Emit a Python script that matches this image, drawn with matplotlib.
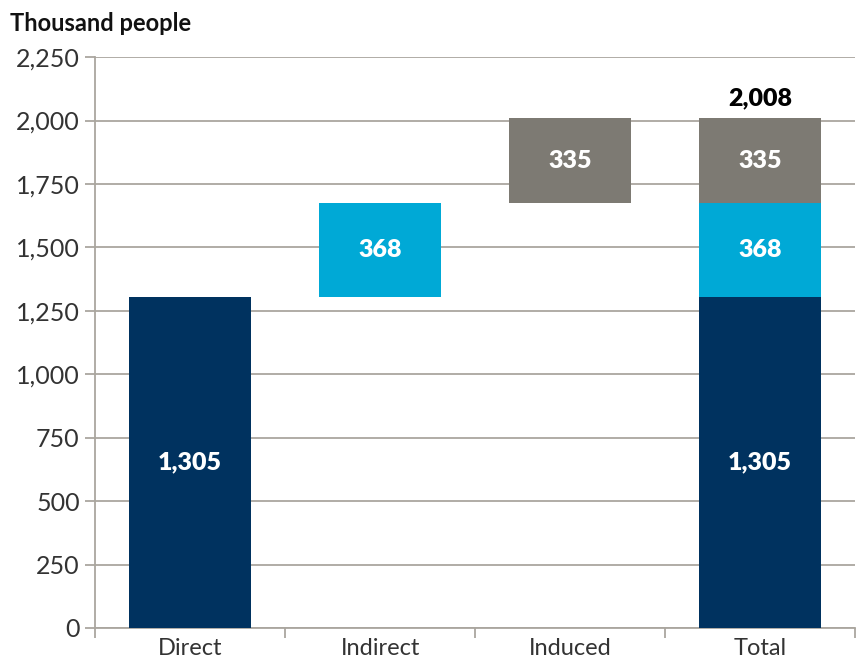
import matplotlib.pyplot as plt
from matplotlib.ticker import FuncFormatter, FixedLocator

plt.rcParams['font.family'] = ['Lato', 'DejaVu Sans']

categories = ['Direct', 'Indirect', 'Induced', 'Total']
direct = 1305
indirect = 368
induced = 335
total = direct + indirect + induced  # 2008

c_direct = '#00325f'
c_indirect = '#00a9d6'
c_induced = '#7d7a73'
grid_c = '#aaa69f'

fig = plt.figure(figsize=(8.56, 6.6), dpi=100)
ax = fig.add_axes([0.111, 0.0485, 0.888, 0.865])

w = 0.64
# waterfall bars
ax.bar(0, direct, w, color=c_direct, zorder=3)
ax.bar(1, indirect, w, bottom=direct, color=c_indirect, zorder=3)
ax.bar(2, induced, w, bottom=direct + indirect, color=c_induced, zorder=3)
# total stacked
ax.bar(3, direct, w, color=c_direct, zorder=3)
ax.bar(3, indirect, w, bottom=direct, color=c_indirect, zorder=3)
ax.bar(3, induced, w, bottom=direct + indirect, color=c_induced, zorder=3)

lbl = dict(ha='center', va='center', color='white', fontsize=18, fontweight='heavy', zorder=4)
ax.text(0, direct / 2, f'{direct:,}', **lbl)
ax.text(1, direct + indirect / 2, f'{indirect:,}', **lbl)
ax.text(2, direct + indirect + induced / 2, f'{induced:,}', **lbl)
ax.text(3, direct / 2, f'{direct:,}', **lbl)
ax.text(3, direct + indirect / 2, f'{indirect:,}', **lbl)
ax.text(3, direct + indirect + induced / 2, f'{induced:,}', **lbl)
ax.text(3, total + 35, f'{total:,}', ha='center', va='bottom', fontsize=18,
        fontweight='heavy', color='black')

ax.set_xlim(-0.5, 3.5)
ax.set_ylim(0, 2250)
ax.set_yticks(range(0, 2251, 250))
ax.yaxis.set_major_formatter(FuncFormatter(lambda v, p: f'{int(v):,}'))
ax.set_xticks(range(4))
ax.set_xticklabels(categories)
ax.xaxis.set_minor_locator(FixedLocator([-0.5, 0.5, 1.5, 2.5, 3.5]))
ax.tick_params(axis='x', which='major', length=0, labelsize=17, pad=7, labelcolor='#333333')
ax.tick_params(axis='x', which='minor', length=7, color=grid_c, width=1.3)
ax.tick_params(axis='y', length=7, color=grid_c, width=1.3, labelsize=18, pad=4,
               labelcolor='#333333')

ax.grid(axis='y', color=grid_c, linewidth=1.3, zorder=0)
for s in ['top', 'right']:
    ax.spines[s].set_visible(False)
for s in ['left', 'bottom']:
    ax.spines[s].set_color(grid_c)
    ax.spines[s].set_linewidth(1.3)

fig.text(0.012, 0.965, 'Thousand people', fontsize=17, fontweight='bold',
         ha='left', va='center', color='#111111')

fig.savefig('out.png', dpi=100)
